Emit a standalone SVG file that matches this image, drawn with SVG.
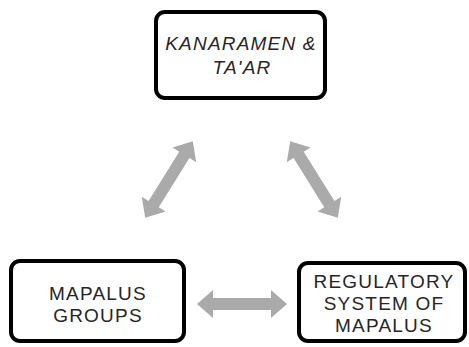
<svg xmlns="http://www.w3.org/2000/svg" xmlns:xlink="http://www.w3.org/1999/xlink" width="469" height="347" viewBox="0 0 469 347">
  <style>
    .box { fill: #ffffff; stroke: #000000; stroke-width: 4; }
    .lbl { font-family: "Liberation Sans", Arial, sans-serif; font-size: 19px; letter-spacing: 1.2px; fill: #262626; text-anchor: middle; }
    .it { font-style: italic; }
    .arr { fill: #aaaaaa; }
  </style>
  <defs>
    <path id="dbl" d="M-45,0 L-29,-14 L-29,-6 L29,-6 L29,-14 L45,0 L29,14 L29,6 L-29,6 L-29,14 Z"/>
  </defs>
  <rect width="469" height="347" fill="#ffffff"/>
  <g id="connectors" class="arr">
    <use xlink:href="#dbl" transform="translate(169,179.5) rotate(-58.06)"/>
    <use xlink:href="#dbl" transform="translate(314,179.5) rotate(58.06)"/>
    <use xlink:href="#dbl" transform="translate(242,304)"/>
  </g>
  <g id="kanaramen">
    <rect class="box" x="156" y="12" width="169" height="86" rx="9"/>
    <text class="lbl it" x="241" y="50">KANARAMEN &amp;</text>
    <text class="lbl it" x="242" y="74">TA'AR</text>
  </g>
  <g id="mapalus-groups">
    <rect class="box" x="11" y="261" width="173" height="80" rx="9"/>
    <text class="lbl" x="98" y="300">MAPALUS</text>
    <text class="lbl" x="98" y="322">GROUPS</text>
  </g>
  <g id="regulatory">
    <rect class="box" x="299" y="263" width="166" height="78" rx="9"/>
    <text class="lbl" x="384" y="288">REGULATORY</text>
    <text class="lbl" x="384" y="310">SYSTEM OF</text>
    <text class="lbl" x="384" y="332">MAPALUS</text>
  </g>
</svg>
